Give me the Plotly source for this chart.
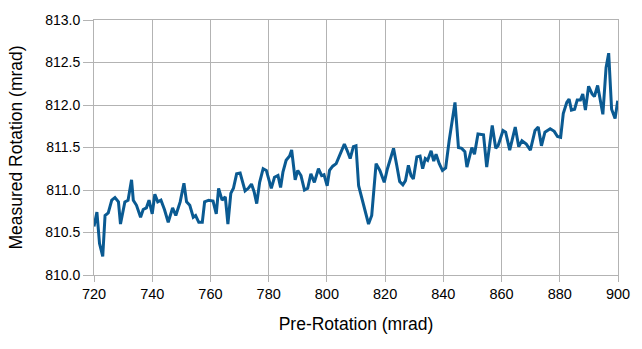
import plotly.graph_objects as go

pre_rotation = [
    720.0, 721.0, 721.9, 723.0, 723.8, 724.9, 726.1, 727.2, 728.4, 729.1,
    730.6, 731.7, 732.9, 733.5, 734.6, 736.0, 736.9, 738.0, 738.9, 740.0,
    740.9, 741.9, 743.0, 744.2, 745.5, 747.0, 748.1, 749.6, 750.9, 751.8,
    752.9, 754.1, 754.9, 756.0, 757.2, 758.0, 759.4, 760.9, 762.0, 762.8,
    764.0, 765.1, 766.0, 767.0, 767.9, 769.0, 770.2, 771.9, 773.0, 774.1,
    775.0, 775.9, 776.9, 778.1, 779.2, 780.0, 780.9, 782.0, 783.2, 784.1,
    784.9, 786.0, 787.2, 787.9, 789.1, 790.0, 791.1, 792.3, 793.4, 794.5,
    795.7, 797.1, 798.2, 799.0, 800.1, 800.9, 802.0, 803.2, 804.1, 805.0,
    806.0, 806.9, 808.0, 809.1, 810.0, 810.9, 812.6, 814.3, 815.4, 816.9,
    818.2, 819.7, 820.8, 822.0, 822.9, 824.1, 825.0, 826.1, 827.0, 828.0,
    828.9, 829.7, 830.9, 832.0, 832.9, 833.8, 834.6, 835.8, 836.7, 837.5,
    838.6, 839.7, 840.8, 842.0, 843.1, 844.0, 845.2, 846.3, 847.4, 848.1,
    849.8, 850.7, 851.9, 853.8, 854.9, 856.8, 858.0, 858.8, 860.5, 861.4,
    862.8, 864.7, 865.9, 867.0, 868.5, 869.9, 871.5, 872.6, 873.7, 874.9,
    876.7, 878.1, 879.2, 880.3, 881.2, 882.4, 883.2, 884.0, 885.1, 886.0,
    887.1, 887.9, 888.8, 889.9, 891.1, 891.9, 893.0, 893.9, 894.8, 895.9,
    896.8, 897.8, 899.0, 899.9,
]

measured_rotation = [
    810.57, 810.74, 810.37, 810.22, 810.70, 810.73, 810.88, 810.91, 810.86, 810.60,
    810.86, 810.88, 811.12, 810.88, 810.82, 810.68, 810.77, 810.79, 810.88, 810.72,
    810.95, 810.86, 810.88, 810.77, 810.62, 810.79, 810.70, 810.86, 811.08, 810.86,
    810.82, 810.68, 810.70, 810.62, 810.62, 810.86, 810.88, 810.87, 810.72, 811.02,
    810.88, 810.92, 810.60, 810.96, 811.02, 811.19, 811.20, 810.99, 811.02, 811.07,
    810.98, 810.84, 811.09, 811.25, 811.23, 811.13, 811.02, 811.15, 811.17, 811.03,
    811.21, 811.35, 811.40, 811.47, 811.12, 811.23, 811.17, 811.00, 811.02, 811.19,
    811.09, 811.25, 811.17, 811.18, 811.05, 811.23, 811.28, 811.31, 811.38, 811.47,
    811.54, 811.47, 811.37, 811.51, 811.52, 811.05, 810.84, 810.60, 810.70, 811.31,
    811.23, 811.09, 811.25, 811.38, 811.49, 811.27, 811.10, 811.06, 811.11, 811.29,
    811.17, 811.13, 811.39, 811.40, 811.25, 811.37, 811.35, 811.46, 811.34, 811.42,
    811.31, 811.23, 811.26, 811.58, 811.86, 812.03, 811.50, 811.49, 811.45, 811.27,
    811.50, 811.42, 811.66, 811.65, 811.27, 811.76, 811.49, 811.52, 811.70, 811.68,
    811.47, 811.74, 811.51, 811.58, 811.54, 811.47, 811.70, 811.74, 811.52, 811.68,
    811.72, 811.69, 811.63, 811.62, 811.90, 812.03, 812.07, 811.94, 811.95, 812.06,
    812.06, 812.13, 811.94, 812.22, 812.13, 812.10, 812.23, 812.05, 811.89, 812.44,
    812.61, 811.95, 811.84, 812.05,
]

x_ticks = [720, 740, 760, 780, 800, 820, 840, 860, 880, 900]
y_ticks = [810.0, 810.5, 811.0, 811.5, 812.0, 812.5, 813.0]

GRID = "#b3b3b3"
LINE = "#0a5a92"

fig = go.Figure()
fig.add_trace(go.Scatter(
    x=pre_rotation, y=measured_rotation, mode="lines",
    line=dict(color=LINE, width=3), showlegend=False,
))

fig.update_layout(
    width=642, height=349,
    margin=dict(l=94, r=17, t=19, b=74),
    paper_bgcolor="white", plot_bgcolor="white",
    font=dict(family="Liberation Sans, Arial, sans-serif", size=14, color="black"),
)
fig.update_xaxes(
    range=[720, 900], tickvals=x_ticks, ticktext=[str(v) for v in x_ticks],
    tickfont=dict(size=14.5),
    showgrid=True, gridcolor=GRID, gridwidth=1,
    showline=True, linecolor=GRID, linewidth=1, mirror=True,
    ticks="outside", ticklen=6, tickcolor=GRID,
    zeroline=False,
    title=dict(text="Pre-Rotation (mrad)", font=dict(size=17.5), standoff=16),
)
fig.update_yaxes(
    range=[810.0, 813.0], tickvals=y_ticks, ticktext=[f"{v:.1f}" for v in y_ticks],
    tickfont=dict(size=14),
    showgrid=True, gridcolor=GRID, gridwidth=1,
    showline=True, linecolor=GRID, linewidth=1, mirror=True,
    ticks="outside", ticklen=10, tickcolor=GRID,
    zeroline=False,
    title=dict(text="Measured Rotation (mrad)", font=dict(size=17.5), standoff=18),
)

fig.write_html("out.html")
